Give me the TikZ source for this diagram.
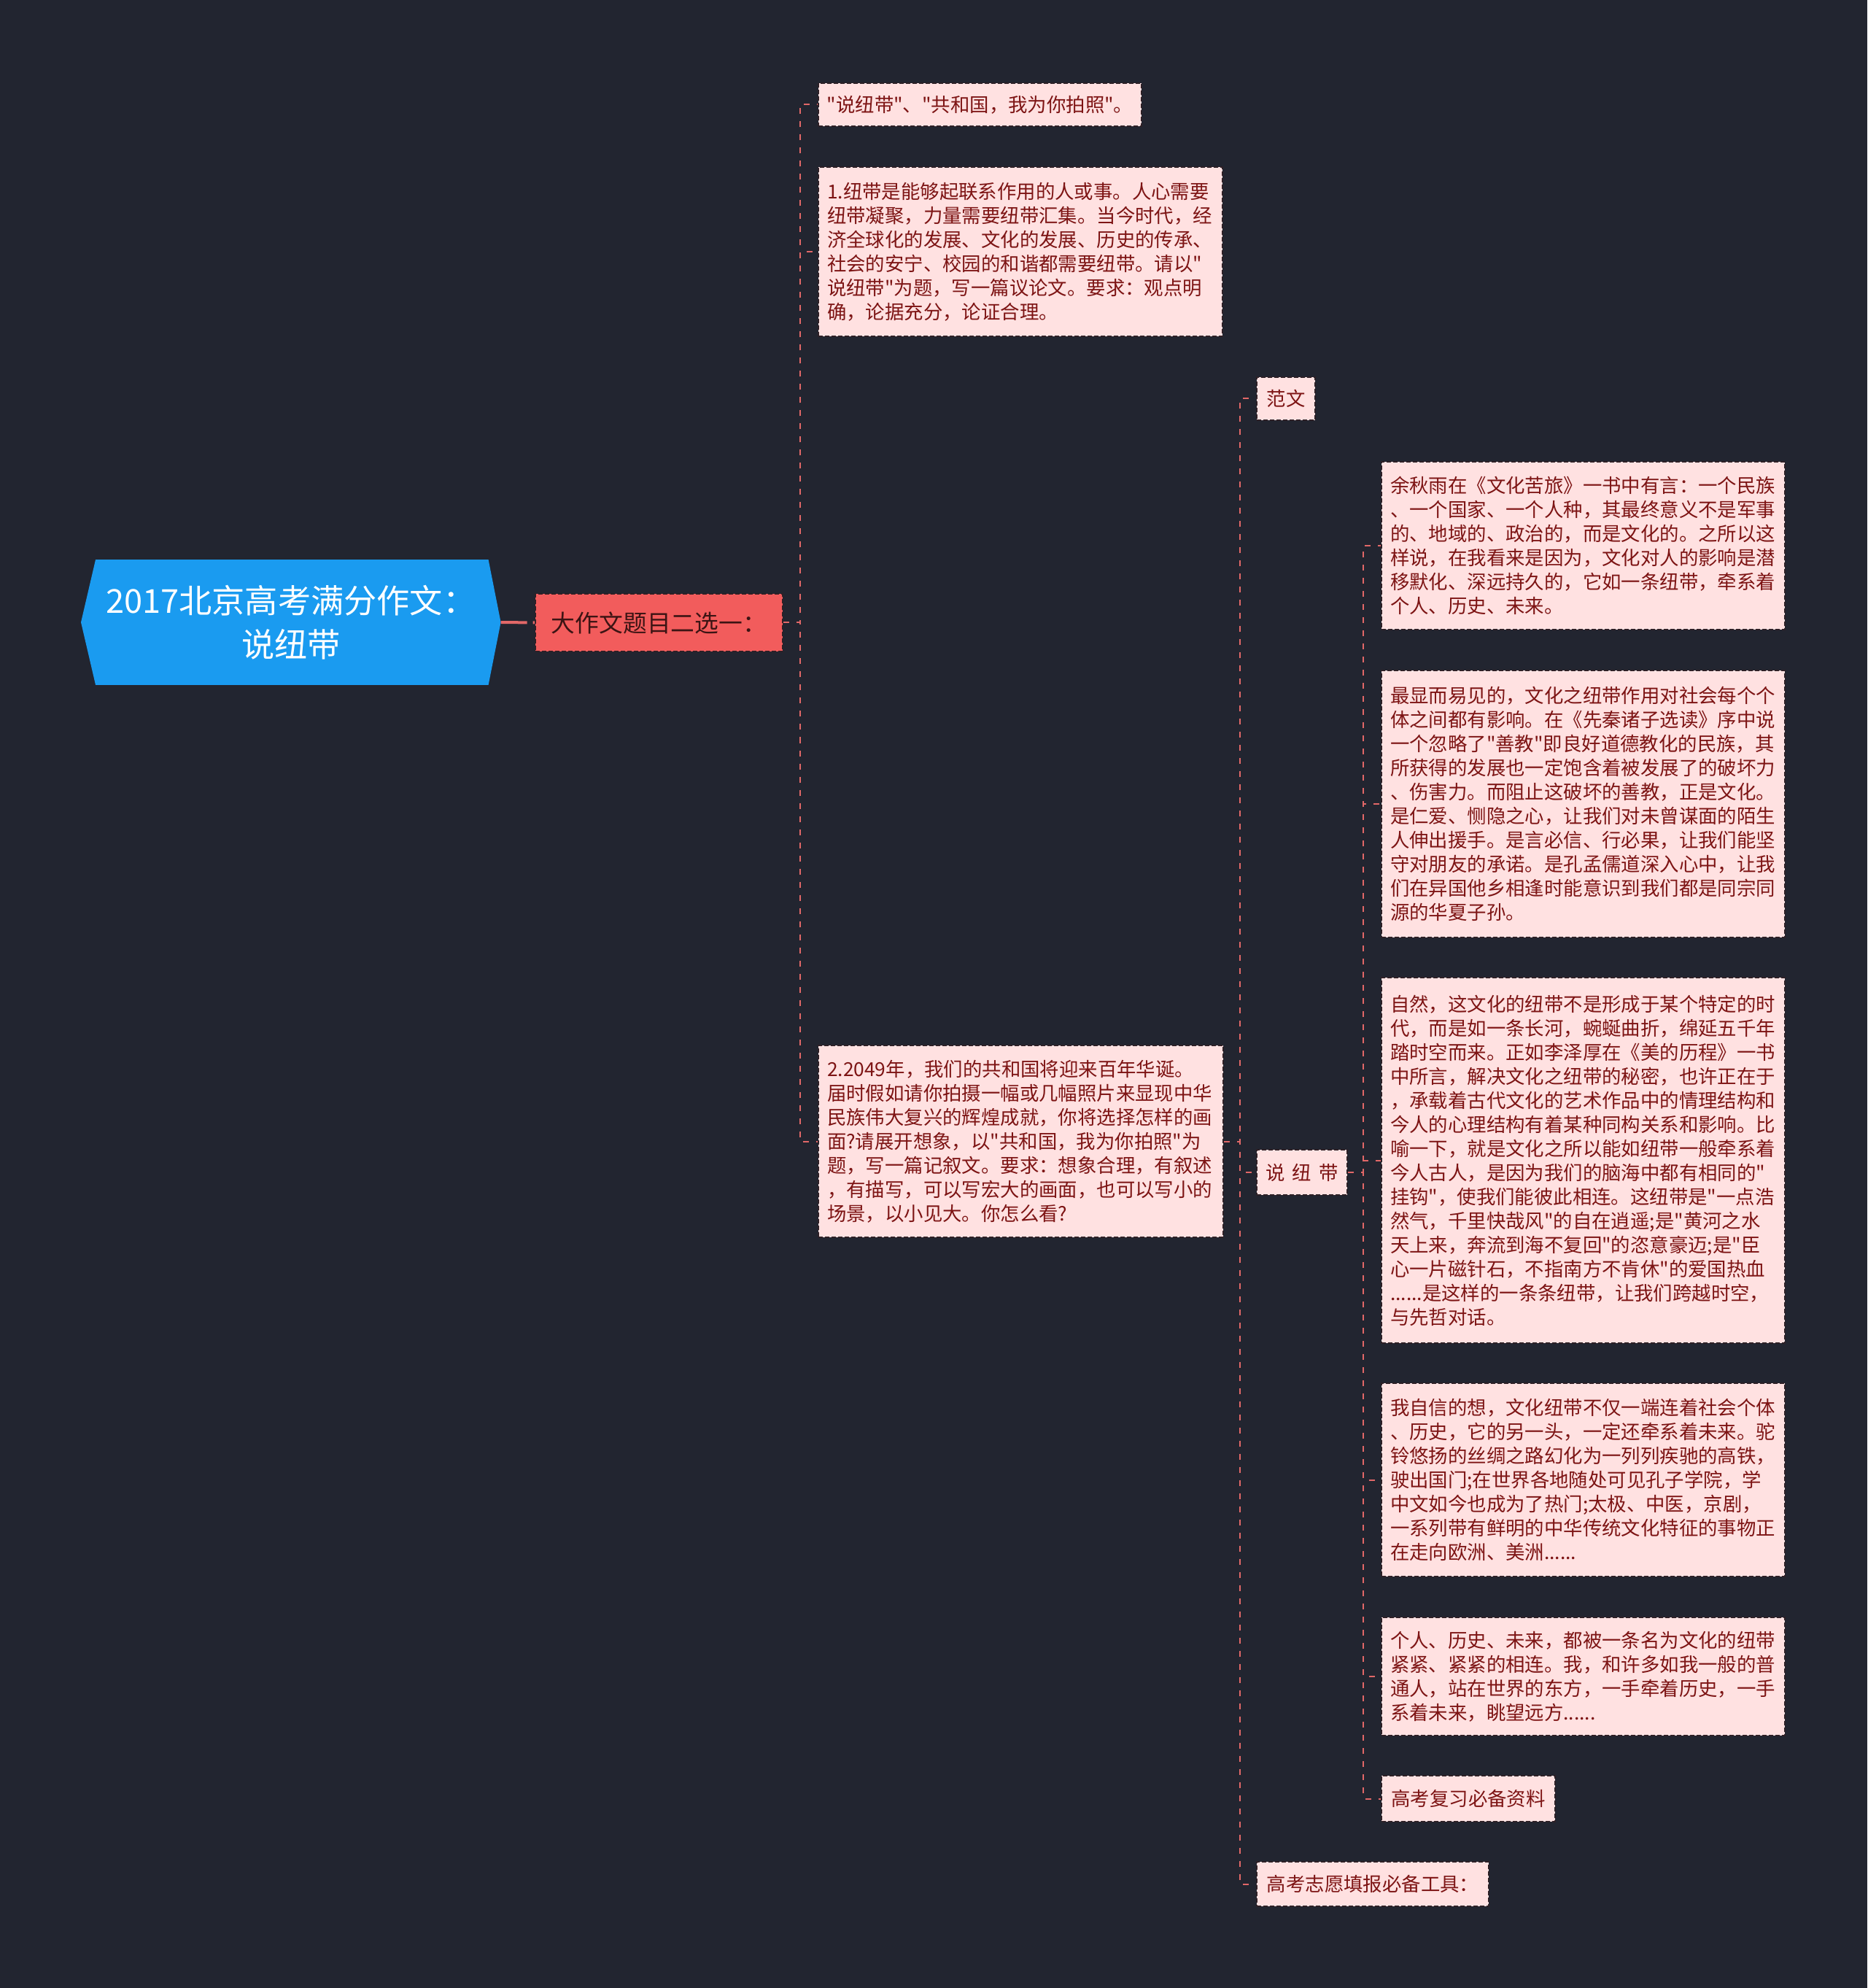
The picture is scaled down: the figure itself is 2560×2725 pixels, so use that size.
\documentclass[tikz,border=0pt]{standalone}
\usepackage{fontspec}
\newfontfamily\cjk{Noto Sans CJK SC}
\usetikzlibrary{calc}
\definecolor{bgc}{RGB}{34,37,48}
\definecolor{pinkc}{RGB}{255,225,225}
\definecolor{textc}{RGB}{125,20,20}
\definecolor{bordc}{RGB}{45,32,38}
\definecolor{connc}{RGB}{226,104,104}
\definecolor{rootc}{RGB}{26,155,240}
\definecolor{redc}{RGB}{242,92,92}
\definecolor{redtext}{RGB}{60,20,20}
\pgfdeclarelayer{back}
\pgfsetlayers{back,main}
\tikzset{
  boxbase/.style={draw=bordc, dash pattern=on 1.5pt off 0.75pt, line width=0.5pt,
    fill=pinkc, text=textc, anchor=north west, inner ysep=0pt,
    font=\cjk\fontsize{6.6pt}{8.25pt}\selectfont},
  leafbox/.style={boxbase, align=left, inner xsep=3pt},
  tagbox/.style={boxbase, align=center, inner xsep=0pt},
  conn/.style={draw=connc, line width=0.5pt, dash pattern=on 2pt off 2.5pt},
  rootconn/.style={draw=connc, line width=1pt, dash pattern=on 9pt off 2pt},
  rootnode/.style={text=white, align=center, inner sep=0pt, anchor=west,
    font=\cjk\fontsize{11.3pt}{15pt}\selectfont},
  rednode/.style={fill=redc, draw=bordc, dash pattern=on 1.5pt off 0.75pt, line width=0.5pt,
    text=redtext, align=center, inner sep=0pt, anchor=north west,
    font=\cjk\fontsize{8.2pt}{9.5pt}\selectfont}
}
\begin{document}
\begin{tikzpicture}[x=0.25pt,y=-0.25pt]
\useasboundingbox (0,0) rectangle (2560,2725);
\begin{pgfonlayer}{back}
\fill[bgc] (0,0) rectangle (2560,2725);
\end{pgfonlayer}

\coordinate (t1) at (1097,0);
\coordinate (t2) at (1700,0);
\coordinate (t3) at (1869,0);

% root
\node[rootnode, minimum width=143.5pt, minimum height=42.5pt] (root) at (111,853)
  {2017北京高考满分作文：\\说纽带};
\begin{pgfonlayer}{back}
\fill[rootc] (root.west) -- ([xshift=5pt]root.north west) -- ([xshift=-4.25pt]root.north east)
  -- (root.east) -- ([xshift=-4.25pt]root.south east) -- ([xshift=5pt]root.south west) -- cycle;
\end{pgfonlayer}

\node[rednode, minimum width=84.75pt, minimum height=19.75pt] (red) at (733,813) {大作文题目二选一：};

% level 1
\node[tagbox, minimum width=110.75pt, minimum height=14.75pt] (A) at (1121,113)
  {"说纽带"、"共和国，我为你拍照"。};
\node[leafbox, text width=132.5pt, minimum width=138.5pt, minimum height=58pt] (B) at (1121,228)
  {1.纽带是能够起联系作用的人或事。人心需要\\
   纽带凝聚，力量需要纽带汇集。当今时代，经\\
   济全球化的发展、文化的发展、历史的传承、\\
   社会的安宁、校园的和谐都需要纽带。请以"\\
   说纽带"为题，写一篇议论文。要求：观点明\\
   确，论据充分，论证合理。};
\node[leafbox, text width=132.75pt, minimum width=138.75pt, minimum height=65.75pt] (C) at (1121,1432)
  {2.2049年，我们的共和国将迎来百年华诞。\\
   届时假如请你拍摄一幅或几幅照片来显现中华\\
   民族伟大复兴的辉煌成就，你将选择怎样的画\\
   面?请展开想象，以"共和国，我为你拍照"为\\
   题，写一篇记叙文。要求：想象合理，有叙述\\
   ，有描写，可以写宏大的画面，也可以写小的\\
   场景，以小见大。你怎么看?};

% level 2
\node[tagbox, minimum width=20pt, minimum height=14.75pt] (fw) at (1722,516) {范文};
\node[tagbox, minimum width=31pt, minimum height=15.5pt] (szd) at (1722,1575) {说\hspace{2.5pt}纽\hspace{2.5pt}带};
\node[tagbox, minimum width=79.5pt, minimum height=15.25pt] (gk) at (1722,2551) {高考志愿填报必备工具：};

% level 3
\node[leafbox, text width=132.25pt, minimum width=138.25pt, minimum height=57.5pt] (d1) at (1893,632)
  {余秋雨在《文化苦旅》一书中有言：一个民族\\
   、一个国家、一个人种，其最终意义不是军事\\
   的、地域的、政治的，而是文化的。之所以这\\
   样说，在我看来是因为，文化对人的影响是潜\\
   移默化、深远持久的，它如一条纽带，牵系着\\
   个人、历史、未来。};
\node[leafbox, text width=132.25pt, minimum width=138.25pt, minimum height=91.5pt] (d2) at (1893,918)
  {最显而易见的，文化之纽带作用对社会每个个\\
   体之间都有影响。在《先秦诸子选读》序中说\\
   一个忽略了"善教"即良好道德教化的民族，其\\
   所获得的发展也一定饱含着被发展了的破坏力\\
   、伤害力。而阻止这破坏的善教，正是文化。\\
   是仁爱、恻隐之心，让我们对未曾谋面的陌生\\
   人伸出援手。是言必信、行必果，让我们能坚\\
   守对朋友的承诺。是孔孟儒道深入心中，让我\\
   们在异国他乡相逢时能意识到我们都是同宗同\\
   源的华夏子孙。};
\node[leafbox, text width=132.25pt, minimum width=138.25pt, minimum height=125.25pt] (d3) at (1893,1339)
  {自然，这文化的纽带不是形成于某个特定的时\\
   代，而是如一条长河，蜿蜒曲折，绵延五千年\\
   踏时空而来。正如李泽厚在《美的历程》一书\\
   中所言，解决文化之纽带的秘密，也许正在于\\
   ，承载着古代文化的艺术作品中的情理结构和\\
   今人的心理结构有着某种同构关系和影响。比\\
   喻一下，就是文化之所以能如纽带一般牵系着\\
   今人古人，是因为我们的脑海中都有相同的"\\
   挂钩"，使我们能彼此相连。这纽带是"一点浩\\
   然气，千里快哉风"的自在逍遥;是"黄河之水\\
   天上来，奔流到海不复回"的恣意豪迈;是"臣\\
   心一片磁针石，不指南方不肯休"的爱国热血\\
   ......是这样的一条条纽带，让我们跨越时空，\\
   与先哲对话。};
\node[leafbox, text width=132.25pt, minimum width=138.25pt, minimum height=66.25pt] (d4) at (1893,1895)
  {我自信的想，文化纽带不仅一端连着社会个体\\
   、历史，它的另一头，一定还牵系着未来。驼\\
   铃悠扬的丝绸之路幻化为一列列疾驰的高铁，\\
   驶出国门;在世界各地随处可见孔子学院，学\\
   中文如今也成为了热门;太极、中医，京剧，\\
   一系列带有鲜明的中华传统文化特征的事物正\\
   在走向欧洲、美洲......};
\node[leafbox, text width=132.25pt, minimum width=138.25pt, minimum height=40.5pt] (d5) at (1893,2216)
  {个人、历史、未来，都被一条名为文化的纽带\\
   紧紧、紧紧的相连。我，和许多如我一般的普\\
   通人，站在世界的东方，一手牵着历史，一手\\
   系着未来，眺望远方......};
\node[tagbox, minimum width=59.5pt, minimum height=15.75pt] (d6) at (1893,2433) {高考复习必备资料};

% connectors
\draw[rootconn] (root.east) -- (red.west);
\foreach \c in {A,B,C} \draw[conn] (red.east) -- (red.east -| t1) |- (\c.west);
\foreach \c in {fw,szd,gk} \draw[conn] (C.east) -- (C.east -| t2) |- (\c.west);
\foreach \c in {d1,d2,d3,d4,d5,d6} \draw[conn] (szd.east) -- (szd.east -| t3) |- (\c.west);
\end{tikzpicture}
\end{document}
